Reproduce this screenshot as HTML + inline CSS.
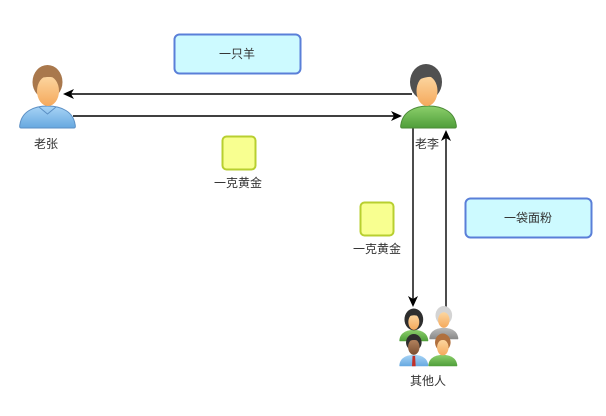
<!DOCTYPE html>
<html><head><meta charset="utf-8"><style>
html,body{margin:0;padding:0;background:#fff;}
svg{display:block;}
text{font-family:"Liberation Sans","Noto Sans CJK SC",sans-serif;font-size:12px;fill:#333;text-anchor:middle;}
</style></head><body>
<svg width="606" height="416" viewBox="0 0 606 416" xmlns="http://www.w3.org/2000/svg">
<defs>
<linearGradient id="skin" x1="0" y1="0" x2="0" y2="1"><stop offset="0" stop-color="#fcd6a0"/><stop offset="1" stop-color="#f5a95c"/></linearGradient>
<linearGradient id="dskin" x1="0" y1="0" x2="0" y2="1"><stop offset="0" stop-color="#b58460"/><stop offset="1" stop-color="#7a4e30"/></linearGradient>
<linearGradient id="green" x1="0" y1="0" x2="0" y2="1"><stop offset="0" stop-color="#8ccf6b"/><stop offset="1" stop-color="#4f9e3a"/></linearGradient>
<linearGradient id="blue" x1="0" y1="0" x2="0" y2="1"><stop offset="0" stop-color="#a8d4f6"/><stop offset="1" stop-color="#66a8e0"/></linearGradient>
<linearGradient id="gray" x1="0" y1="0" x2="0" y2="1"><stop offset="0" stop-color="#bbb"/><stop offset="1" stop-color="#888"/></linearGradient>
<g id="bodyshape"><path d="M2,64 Q0,64 1,60 C3,48 14,42 28.5,42 C43,42 54,48 56,60 Q57,64 55,64 Z"/></g>
</defs>

<!-- Boxes -->
<rect x="174.5" y="34.5" width="126" height="39" rx="5" fill="#cdfaff" stroke="#5a7fd8" stroke-width="2"/>
<text x="237" y="58">一只羊</text>
<rect x="465.5" y="198.5" width="126" height="39" rx="5" fill="#cdfaff" stroke="#5a7fd8" stroke-width="2"/>
<text x="528" y="222">一袋面粉</text>

<!-- Yellow squares -->
<rect x="222.5" y="136.5" width="33" height="33" rx="4" fill="#f8ff90" stroke="#b8cf30" stroke-width="2"/>
<text x="238" y="187">一克黄金</text>
<rect x="360.5" y="202.5" width="33" height="33" rx="4" fill="#f8ff90" stroke="#b8cf30" stroke-width="2"/>
<text x="377" y="253">一克黄金</text>

<!-- Connectors -->
<g stroke="#000" stroke-width="1.4" fill="none">
<line x1="412" y1="94" x2="70" y2="94"/>
<line x1="73" y1="116" x2="395" y2="116"/>
<line x1="413" y1="128" x2="413" y2="300"/>
<line x1="446" y1="308" x2="446" y2="137"/>
</g>
<g fill="#000">
<path d="M63,94 L74,89 L71,94 L74,99 Z"/>
<path d="M402,116 L391,111 L394,116 L391,121 Z"/>
<path d="M413,307 L408,296 L413,299 L418,296 Z"/>
<path d="M446,130 L441,141 L446,138 L451,141 Z"/>
</g>

<!-- 老张 -->
<g transform="translate(19,64)">
<path d="M2,64 Q0,64 1,60 C3,48 14,42 28.5,42 C43,42 54,48 56,60 Q57,64 55,64 Z" fill="url(#blue)" stroke="#5b8fc4" stroke-width="1"/>
<path d="M20,43 L28.5,50 L37,43" fill="none" stroke="#5b8fc4" stroke-width="1"/>
<ellipse cx="28.5" cy="18" rx="15" ry="17" fill="#a9784c"/>
<ellipse cx="29" cy="27" rx="11" ry="15" fill="url(#skin)"/>
<path d="M16,16 C18,6 38,4 42,16 C36,12 24,12 16,16 Z" fill="#a9784c"/>
</g>
<text x="46" y="148">老张</text>

<!-- 老李 -->
<g transform="translate(400,64)">
<path d="M2,64 Q0,64 1,60 C3,48 14,42 28.5,42 C43,42 54,48 56,60 Q57,64 55,64 Z" fill="url(#green)" stroke="#4a8a36" stroke-width="1"/>
<ellipse cx="26" cy="18" rx="16" ry="18" fill="#505050"/>
<ellipse cx="27" cy="27" rx="10.5" ry="15" fill="url(#skin)"/>
<path d="M15,18 C16,6 36,4 40,14 C34,12 24,12 15,18 Z" fill="#505050"/>
</g>
<text x="427" y="148">老李</text>

<!-- 其他人 group -->
<!-- top-left woman -->
<g transform="translate(399,308) scale(0.52)">
<path d="M2,64 Q0,64 1,60 C3,48 14,42 28.5,42 C43,42 54,48 56,60 Q57,64 55,64 Z" fill="url(#green)"/>
<ellipse cx="28.5" cy="22" rx="18" ry="21" fill="#2e2e2e"/>
<ellipse cx="28.5" cy="27" rx="10.5" ry="15" fill="url(#skin)"/>
<path d="M14,20 C16,4 42,4 44,20 C36,12 22,12 14,20 Z" fill="#2e2e2e"/>
</g>
<!-- top-right old man -->
<g transform="translate(429,306) scale(0.52)">
<path d="M2,64 Q0,64 1,60 C3,48 14,42 28.5,42 C43,42 54,48 56,60 Q57,64 55,64 Z" fill="url(#gray)"/>
<ellipse cx="28.5" cy="18" rx="16" ry="18" fill="#d4d4d4"/>
<ellipse cx="28.5" cy="27" rx="11" ry="15" fill="url(#skin)"/>
</g>
<!-- bottom-left man -->
<g transform="translate(399,333) scale(0.52)">
<path d="M2,64 Q0,64 1,60 C3,48 14,42 28.5,42 C43,42 54,48 56,60 Q57,64 55,64 Z" fill="url(#blue)"/>
<path d="M26,44 L31,44 L32,64 L25,64 Z" fill="#c0302a"/>
<ellipse cx="28.5" cy="18" rx="15" ry="16" fill="#2e2e2e"/>
<ellipse cx="28.5" cy="27" rx="11" ry="15" fill="url(#dskin)"/>
<path d="M16,18 C18,6 38,4 42,18 C36,12 22,12 16,18 Z" fill="#2e2e2e"/>
</g>
<!-- bottom-right -->
<g transform="translate(428,333) scale(0.52)">
<path d="M2,64 Q0,64 1,60 C3,48 14,42 28.5,42 C43,42 54,48 56,60 Q57,64 55,64 Z" fill="url(#green)"/>
<ellipse cx="28.5" cy="18" rx="15" ry="17" fill="#b0703e"/>
<ellipse cx="28.5" cy="28" rx="11" ry="15" fill="url(#skin)"/>
<path d="M16,18 C18,6 38,4 42,18 C36,12 22,12 16,18 Z" fill="#b0703e"/>
</g>
<text x="428" y="385">其他人</text>
</svg>
</body></html>
